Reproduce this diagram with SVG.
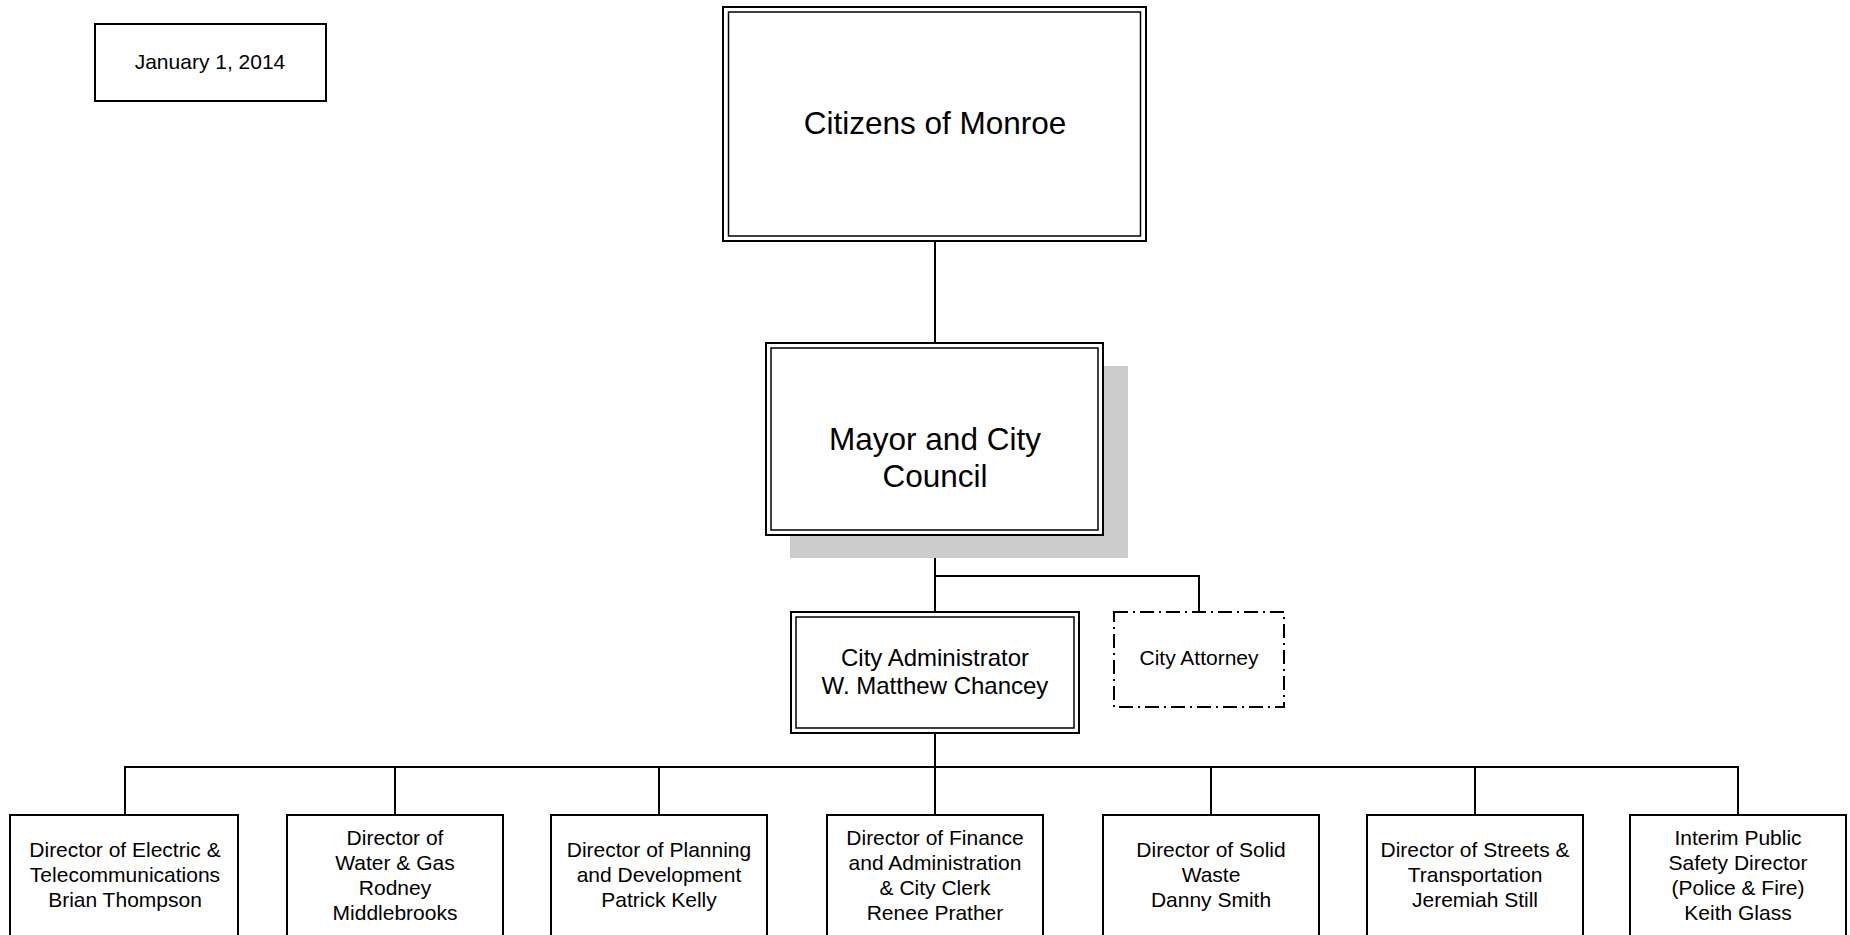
<svg xmlns="http://www.w3.org/2000/svg" width="1850" height="935" viewBox="0 0 1850 935">
<style>
  text { font-family: "Liberation Sans", Arial, sans-serif; fill: #000; text-anchor: middle; }
  .box { fill: #fff; stroke: #000; stroke-width: 2; }
  .inner { fill: none; stroke: #000; stroke-width: 1.5; }
  .conn { fill: none; stroke: #000; stroke-width: 2; }
  .dashdot { fill: #fff; stroke: #000; stroke-width: 2; stroke-dasharray: 14 5 2 5; }
  .shadow { fill: #cccccc; stroke: none; }
  .big { font-size: 31.5px; }
  .mid { font-size: 24px; }
  .small { font-size: 21px; }
</style>
<rect width="1850" height="935" fill="#fff"/>
<g id="connectors">
  <path class="conn" d="M935 241 V343"/>
  <path class="conn" d="M935 535 V612"/>
  <path class="conn" d="M935 576 H1199 V612"/>
  <path class="conn" d="M935 733 V767"/>
  <path class="conn" d="M125 815 V767 H1738 V815"/>
  <path class="conn" d="M395 767 V815"/>
  <path class="conn" d="M659 767 V815"/>
  <path class="conn" d="M935 767 V815"/>
  <path class="conn" d="M1211 767 V815"/>
  <path class="conn" d="M1475 767 V815"/>
</g>
<g id="date">
  <rect class="box" x="95" y="24" width="231" height="77"/>
  <text class="small" x="210" y="69">January 1, 2014</text>
</g>
<g id="citizens">
  <rect class="box" x="723" y="7" width="423" height="234"/>
  <rect class="inner" x="728.5" y="12" width="412" height="224"/>
  <text class="big" x="935" y="134">Citizens of Monroe</text>
</g>
<g id="mayor">
  <rect class="shadow" x="790" y="366" width="338" height="192"/>
  <rect class="box" x="766" y="343" width="337" height="192"/>
  <rect class="inner" x="771" y="348" width="327" height="182"/>
  <text class="big" x="935" y="449.5">Mayor and City</text>
  <text class="big" x="935" y="487">Council</text>
</g>
<g id="administrator">
  <rect class="box" x="791" y="612" width="288" height="121"/>
  <rect class="inner" x="796" y="617" width="278" height="111"/>
  <text class="mid" x="935" y="665.5">City Administrator</text>
  <text class="mid" x="935" y="694">W. Matthew Chancey</text>
</g>
<g id="attorney">
  <rect class="dashdot" x="1114" y="612" width="170" height="95"/>
  <text class="small" x="1199" y="665">City Attorney</text>
</g>
<g id="electric">
  <rect class="box" x="10" y="815" width="228" height="140"/>
  <text class="small" x="125" y="857">Director of Electric &amp;</text>
  <text class="small" x="125" y="882">Telecommunications</text>
  <text class="small" x="125" y="907">Brian Thompson</text>
</g>
<g id="water">
  <rect class="box" x="287" y="815" width="216" height="140"/>
  <text class="small" x="395" y="844.5">Director of</text>
  <text class="small" x="395" y="869.5">Water &amp; Gas</text>
  <text class="small" x="395" y="894.5">Rodney</text>
  <text class="small" x="395" y="919.5">Middlebrooks</text>
</g>
<g id="planning">
  <rect class="box" x="551" y="815" width="216" height="140"/>
  <text class="small" x="659" y="857">Director of Planning</text>
  <text class="small" x="659" y="882">and Development</text>
  <text class="small" x="659" y="907">Patrick Kelly</text>
</g>
<g id="finance">
  <rect class="box" x="827" y="815" width="216" height="140"/>
  <text class="small" x="935" y="844.5">Director of Finance</text>
  <text class="small" x="935" y="869.5">and Administration</text>
  <text class="small" x="935" y="894.5">&amp; City Clerk</text>
  <text class="small" x="935" y="919.5">Renee Prather</text>
</g>
<g id="solidwaste">
  <rect class="box" x="1103" y="815" width="216" height="140"/>
  <text class="small" x="1211" y="857">Director of Solid</text>
  <text class="small" x="1211" y="882">Waste</text>
  <text class="small" x="1211" y="907">Danny Smith</text>
</g>
<g id="streets">
  <rect class="box" x="1367" y="815" width="216" height="140"/>
  <text class="small" x="1475" y="857">Director of Streets &amp;</text>
  <text class="small" x="1475" y="882">Transportation</text>
  <text class="small" x="1475" y="907">Jeremiah Still</text>
</g>
<g id="publicsafety">
  <rect class="box" x="1630" y="815" width="216" height="140"/>
  <text class="small" x="1738" y="844.5">Interim Public</text>
  <text class="small" x="1738" y="869.5">Safety Director</text>
  <text class="small" x="1738" y="894.5">(Police &amp; Fire)</text>
  <text class="small" x="1738" y="919.5">Keith Glass</text>
</g>
</svg>
